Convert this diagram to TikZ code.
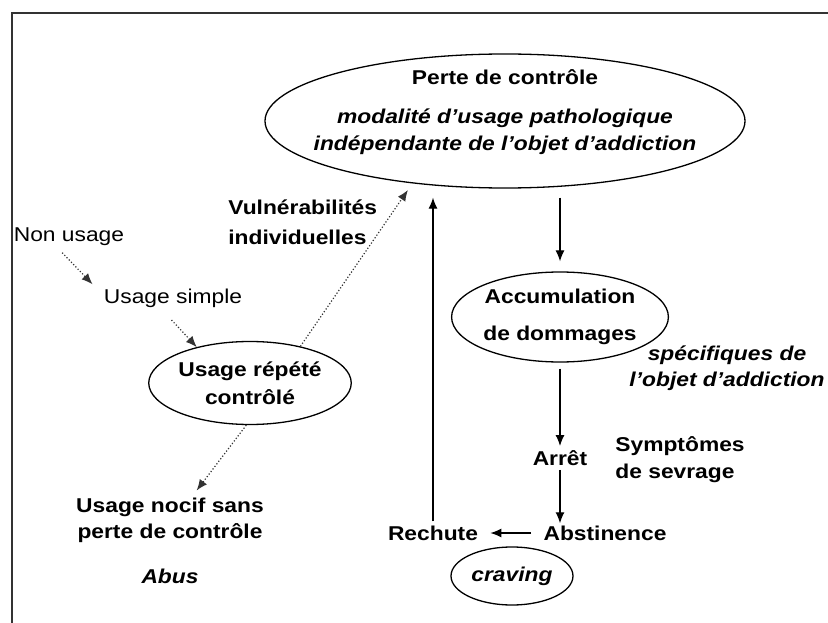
\documentclass[tikz,border=0pt]{standalone}
\usepackage{fontspec}
\setmainfont{Liberation Sans}[FakeStretch=1.14]
\usetikzlibrary{arrows.meta,shapes.geometric}

\begin{document}
\begin{tikzpicture}[x=1pt,y=-1pt,>={Latex[length=11pt,width=9pt]},thick,font=\fontsize{20}{26}\selectfont,
  bulle/.style={ellipse,draw,line width=1.3pt,inner sep=0pt},
  mot/.style={inner sep=2pt,align=center},
  fleche/.style={->,line width=1.2pt},
  pointille/.style={->,dotted,line width=1.2pt,black!80}]
  \useasboundingbox (0,0) rectangle (828,623);
  \draw[line width=1.6pt,black!80] (12,623) -- (12,13) -- (828,13);

  % ellipses
  \node[bulle,minimum width=480pt,minimum height=134pt] (perte) at (505,121) {};
  \node[mot,font=\fontsize{20}{26}\selectfont\bfseries] (pertetitre) at (505,77) {Perte de contrôle};
  \node[mot,font=\fontsize{20}{27}\selectfont\bfseries\itshape] (pertedesc) at (505,132)
    {modalité d’usage pathologique\\indépendante de l’objet d’addiction};
  \node[bulle,minimum width=216pt,minimum height=90pt,align=center,font=\fontsize{20}{37}\selectfont\bfseries]
    (accum) at (560,317) {Accumulation\\de dommages};
  \node[bulle,minimum width=176pt,minimum height=83pt,align=center,font=\fontsize{20}{28}\selectfont\bfseries]
    (repete) at (250,383) {Usage répété\\contrôlé};
  \node[bulle,minimum width=122pt,minimum height=58pt,font=\fontsize{20}{26}\selectfont\bfseries\itshape]
    (craving) at (512,576) {craving};

  % textes
  \node[mot] (nonusage) at (69,237) {Non usage};
  \node[mot] (usagesimple) at (173,298) {Usage simple};
  \node[mot,anchor=west,align=left,font=\fontsize{20}{30}\selectfont\bfseries] (vuln) at (226,222)
    {Vulnérabilités\\individuelles};
  \node[mot,font=\fontsize{20}{26}\selectfont\bfseries] (nocif) at (170,520) {Usage nocif sans\\perte de contrôle};
  \node[mot,font=\fontsize{20}{26}\selectfont\bfseries\itshape] (abus) at (170,576) {Abus};
  \node[mot,font=\fontsize{20}{26}\selectfont\bfseries\itshape] (specif) at (727,368)
    {spécifiques de\\l’objet d’addiction};
  \node[mot,font=\fontsize{20}{26}\selectfont\bfseries] (arret) at (560,458) {Arrêt};
  \node[mot,anchor=west,align=left,font=\fontsize{20}{27}\selectfont\bfseries] (sympt) at (613,460)
    {Symptômes\\de sevrage};
  \node[mot,font=\fontsize{20}{26}\selectfont\bfseries] (abst) at (605,533) {Abstinence};
  \node[mot,font=\fontsize{20}{26}\selectfont\bfseries] (rechute) at (433,533) {Rechute};

  % fleches
  \draw[pointille,shorten <=6pt] ([xshift=-11pt]nonusage.south) -- ([xshift=-9pt,yshift=2pt]usagesimple.north west);
  \draw[pointille,shorten <=14pt] ([xshift=-11pt]usagesimple.south) -- (repete.146);
  \draw[pointille,shorten >=8pt] (repete.36) -- (perte.214);
  \draw[pointille,shorten >=6pt] (repete.265) -- ([xshift=23pt]nocif.north);
  \draw[fleche,shorten <=2pt,shorten >=9pt] (rechute.north) -- (rechute.north |- perte.south);
  \draw[fleche,shorten <=9pt,shorten >=10pt] (accum.north |- perte.south) -- (accum.north);
  \draw[fleche,shorten <=6pt,shorten >=2pt] (accum.south) -- (arret.north);
  \draw[fleche,shorten <=2pt] (arret.south) -- (arret.south |- abst.north);
  \draw[fleche,shorten <=10pt,shorten >=10pt] (abst.west) -- (rechute.east);
\end{tikzpicture}
\end{document}
